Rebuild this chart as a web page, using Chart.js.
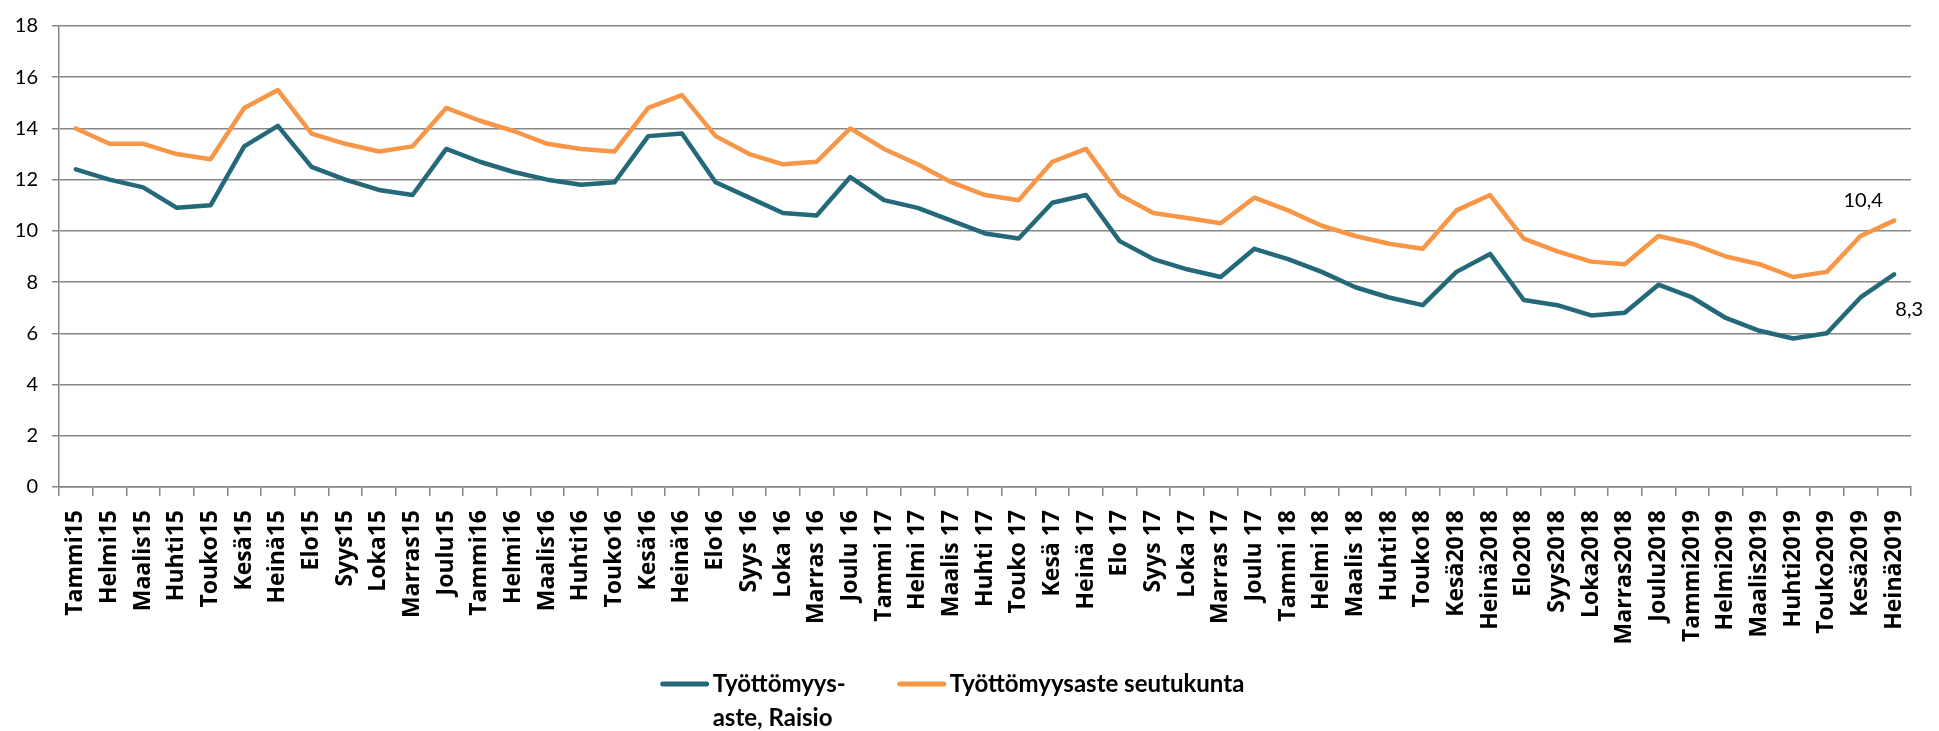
<!DOCTYPE html>
<html>
<head>
<meta charset="utf-8">
<script src="https://cdn.jsdelivr.net/npm/chart.js@4/dist/chart.umd.min.js"></script>
<style>
  html, body { margin: 0; padding: 0; background: #fff; }
  #wrap { width: 1939px; height: 731px; position: relative; }
</style>
</head>
<body>
<div id="wrap"><canvas id="c" width="1939" height="731"></canvas></div>
<script>
const categories = ['Tammi15','Helmi15','Maalis15','Huhti15','Touko15','Kesä15','Heinä15','Elo15','Syys15','Loka15','Marras15','Joulu15',
  'Tammi16','Helmi16','Maalis16','Huhti16','Touko16','Kesä16','Heinä16','Elo16','Syys 16','Loka 16','Marras 16','Joulu 16',
  'Tammi 17','Helmi 17','Maalis 17','Huhti 17','Touko 17','Kesä 17','Heinä 17','Elo 17','Syys 17','Loka 17','Marras 17','Joulu 17',
  'Tammi 18','Helmi 18','Maalis 18','Huhti18','Touko18','Kesä2018','Heinä2018','Elo2018','Syys2018','Loka2018','Marras2018','Joulu2018',
  'Tammi2019','Helmi2019','Maalis2019','Huhti2019','Touko2019','Kesä2019','Heinä2019'];

const raisio = [12.4,12.0,11.7,10.9,11.0,13.3,14.1,12.5,12.0,11.6,11.4,13.2,
  12.7,12.3,12.0,11.8,11.9,13.7,13.8,11.9,11.3,10.7,10.6,12.1,
  11.2,10.9,10.4,9.9,9.7,11.1,11.4,9.6,8.9,8.5,8.2,9.3,
  8.9,8.4,7.8,7.4,7.1,8.4,9.1,7.3,7.1,6.7,6.8,7.9,
  7.4,6.6,6.1,5.8,6.0,7.4,8.3];

const seutukunta = [14.0,13.4,13.4,13.0,12.8,14.8,15.5,13.8,13.4,13.1,13.3,14.8,
  14.3,13.9,13.4,13.2,13.1,14.8,15.3,13.7,13.0,12.6,12.7,14.0,
  13.2,12.6,11.9,11.4,11.2,12.7,13.2,11.4,10.7,10.5,10.3,11.3,
  10.8,10.2,9.8,9.5,9.3,10.8,11.4,9.7,9.2,8.8,8.7,9.8,
  9.5,9.0,8.7,8.2,8.4,9.8,10.4];

const seriesLabels = [['Työttömyys-', 'aste, Raisio'], ['Työttömyysaste seutukunta']];
const seriesColors = ['#23697A', '#F79646'];

const GRID = '#868686';

const lastLabelPlugin = {
  id: 'lastLabels',
  afterDatasetsDraw(chart) {
    const ctx = chart.ctx;
    const offsets = [[15, 35], [-31, -20]];
    ctx.save();
    ctx.font = '20px Lato';
    ctx.fillStyle = '#000';
    ctx.textAlign = 'center';
    ctx.textBaseline = 'middle';
    chart.data.datasets.forEach((ds, i) => {
      const meta = chart.getDatasetMeta(i);
      const n = ds.data.length - 1;
      const pt = meta.data[n];
      const txt = String(ds.data[n]).replace('.', ',');
      ctx.fillText(txt, pt.x + offsets[i][0], pt.y + offsets[i][1]);
    });
    ctx.restore();
  }
};

const legendPlugin = {
  id: 'customLegend',
  afterDraw(chart) {
    const ctx = chart.ctx;
    ctx.save();
    ctx.font = 'bold 24px Lato';
    ctx.textBaseline = 'middle';
    ctx.textAlign = 'left';
    const sample = 48, gapText = 4, gapItems = 52, lineH = 34;
    const widths = seriesLabels.map(lines => sample + gapText + Math.max(...lines.map(l => ctx.measureText(l).width)));
    const total = widths.reduce((a, b) => a + b, 0) + gapItems * (widths.length - 1);
    let x = chart.width / 2 - 17 - total / 2;
    const y0 = 684;
    seriesLabels.forEach((lines, i) => {
      ctx.strokeStyle = seriesColors[i];
      ctx.lineWidth = 5;
      ctx.lineCap = 'round';
      ctx.beginPath();
      ctx.moveTo(x + 2, y0);
      ctx.lineTo(x + sample - 2, y0);
      ctx.stroke();
      ctx.fillStyle = '#000';
      lines.forEach((l, j) => ctx.fillText(l, x + sample + gapText, y0 + j * lineH));
      x += widths[i] + gapItems;
    });
    ctx.restore();
  }
};

new Chart(document.getElementById('c'), {
  type: 'line',
  data: {
    labels: categories,
    datasets: [
      { label: seriesLabels[0].join(' '), data: raisio, borderColor: seriesColors[0], backgroundColor: seriesColors[0],
        borderWidth: 4.5, pointRadius: 0, tension: 0, borderCapStyle: 'round', borderJoinStyle: 'round' },
      { label: seriesLabels[1].join(' '), data: seutukunta, borderColor: seriesColors[1], backgroundColor: seriesColors[1],
        borderWidth: 4.5, pointRadius: 0, tension: 0, borderCapStyle: 'round', borderJoinStyle: 'round' }
    ]
  },
  options: {
    responsive: false,
    animation: false,
    devicePixelRatio: 1,
    layout: { padding: { top: 21, right: 28, bottom: 85, left: 0 } },
    plugins: {
      legend: { display: false },
      tooltip: { enabled: false }
    },
    scales: {
      x: {
        type: 'category',
        offset: true,
        grid: { offset: true, drawOnChartArea: false, drawTicks: true, tickLength: 9, color: GRID, lineWidth: 1.5 },
        border: { color: GRID, width: 1.5 },
        ticks: { autoSkip: false, maxRotation: 90, minRotation: 90, color: '#000', padding: 14,
                 font: { family: 'Open Sans', weight: 'bold', size: 23 } },
        afterFit: s => { s.height = 159; }
      },
      y: {
        min: 0, max: 18,
        grid: { color: GRID, lineWidth: 1.5, tickLength: 7 },
        border: { color: GRID, width: 1.5 },
        ticks: { stepSize: 2, color: '#000', padding: 14, font: { family: 'Lato', size: 20 } },
        afterFit: s => { s.width = 59; }
      }
    }
  },
  plugins: [lastLabelPlugin, legendPlugin]
});
</script>
</body>
</html>
